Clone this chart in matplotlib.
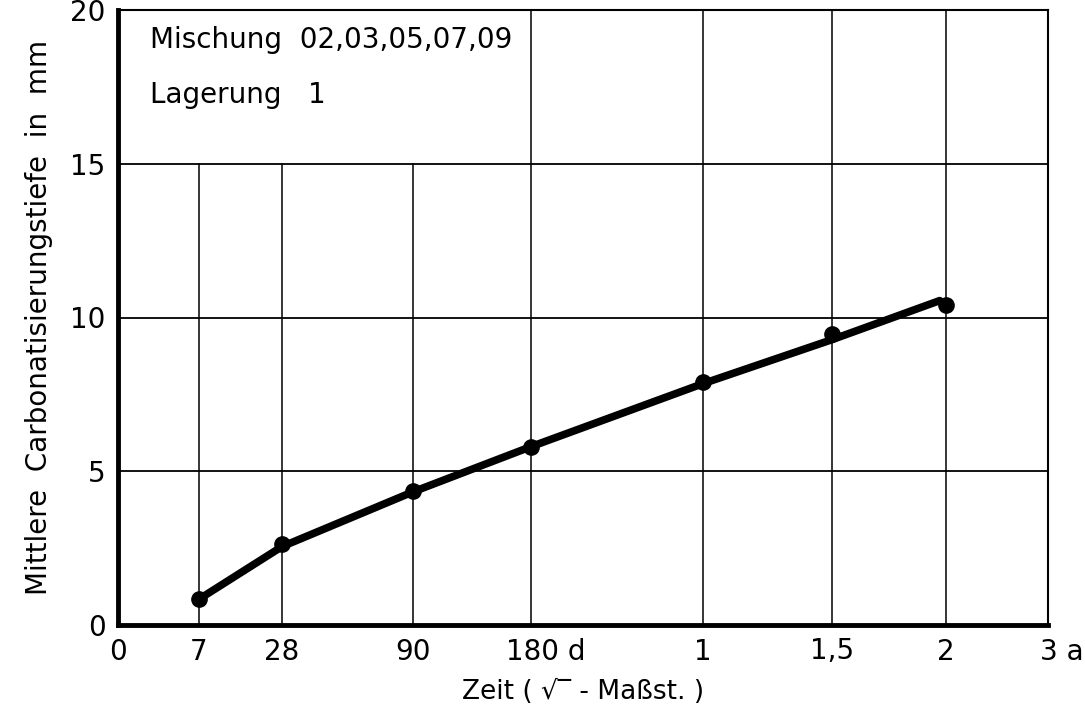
import numpy as np
import matplotlib.pyplot as plt
from matplotlib.transforms import ScaledTranslation

# tick days on the (distorted) sqrt time axis and where they sit (px from left axis)
tick_days = [0, 7, 28, 90, 180, 365, 547.5, 730, 1095]
tick_pos = [0, 81, 164, 295, 413, 585, 714, 828, 930]
tick_labels = ['0', '7', '28', '90', '180 d', '1', '1,5', '2', '3 a']

# measured points
point_days = [7, 28, 90, 180, 365, 547.5, 730]
point_depth = [0.84, 2.62, 4.35, 5.78, 7.9, 9.45, 10.4]

# drawn curve
line_days = [7, 28, 90, 180, 365, 547.5, 720]
line_depth = [0.84, 2.55, 4.33, 5.8, 7.85, 9.28, 10.55]

y_ticks = [0, 5, 10, 15, 20]


def forward(x):
    return np.interp(x, tick_days, tick_pos)


def inverse(x):
    return np.interp(x, tick_pos, tick_days)


plt.rcParams['font.family'] = ['DejaVu Sans']

fig = plt.figure(figsize=(10.85, 7.17), dpi=100)
ax = fig.add_axes([118 / 1085, 92 / 717, 930 / 1085, 615 / 717])
ax.set_xscale('function', functions=(forward, inverse))
ax.set_xlim(0, 1095)
ax.set_ylim(0, 20)

# grid: horizontal lines full width, vertical lines stop at 15 inside the text box
for y in y_ticks[1:-1]:
    ax.axhline(y, color='black', lw=1.3, zorder=1)
for d in tick_days[1:-1]:
    top = 0.75 if d < 180 else 1.0
    ax.axvline(d, ymax=top, color='black', lw=1.1, zorder=1)

ax.plot(line_days, line_depth, color='black', lw=5.5, solid_capstyle='round', zorder=3)
ax.plot(point_days, point_depth, 'o', color='black', ms=11, zorder=4)

for side in ['left', 'bottom']:
    ax.spines[side].set_linewidth(3.5)
for side in ['top', 'right']:
    ax.spines[side].set_linewidth(1.5)

ax.set_xticks(tick_days)
ax.set_xticklabels(tick_labels)
ax.set_yticks(y_ticks)
ax.tick_params(length=0, labelsize=20)
ax.tick_params(axis='x', pad=9)
ax.tick_params(axis='y', pad=9)

# shift labels with units so the number sits on the tick
for lab in ax.get_xticklabels():
    if lab.get_text() == '180 d':
        lab.set_ha('left')
        lab.set_transform(lab.get_transform() + ScaledTranslation(-25 / 100, 0, fig.dpi_scale_trans))
    elif lab.get_text() == '3 a':
        lab.set_ha('left')
        lab.set_transform(lab.get_transform() + ScaledTranslation(-8 / 100, 0, fig.dpi_scale_trans))

ax.set_xlabel('Zeit ( √‾ - Maßst. )', fontsize=19, labelpad=10)
ax.set_ylabel('Mittlere  Carbonatisierungstiefe  in  mm', fontsize=20, labelpad=12)

ax.text(0.034, 0.951, 'Mischung  02,03,05,07,09', transform=ax.transAxes,
        fontsize=20, va='center')
ax.text(0.034, 0.862, 'Lagerung   1', transform=ax.transAxes,
        fontsize=20, va='center')

fig.savefig('out.png', dpi=100)
